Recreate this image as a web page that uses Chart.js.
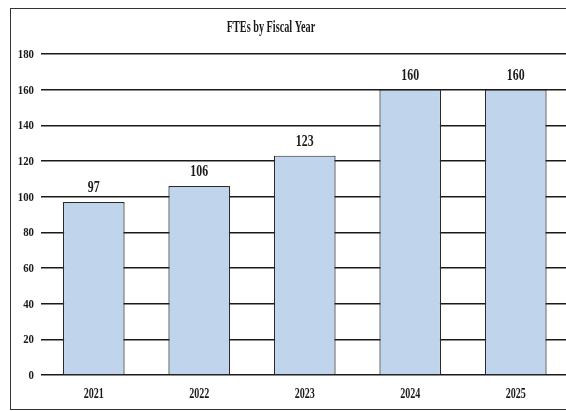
<!DOCTYPE html>
<html>
<head>
<meta charset="utf-8">
<script src="https://cdn.jsdelivr.net/npm/chart.js@4/dist/chart.umd.min.js"></script>
<style>
html, body { margin: 0; padding: 0; background: #fff; overflow: hidden; }
#wrap { position: absolute; left: 0; top: 0; width: 600px; height: 411px; }
</style>
</head>
<body>
<div id="wrap"><canvas id="fte" width="600" height="411"></canvas></div>
<script>
var chartTitle = "FTEs by Fiscal Year";
var years = ["2021", "2022", "2023", "2024", "2025"];
var ftes = [97, 106, 123, 160, 160];
var yMax = 180;
var yStep = 20;

var serif = '"Liberation Serif", "Times New Roman", serif';
var ink = '#1a1a1a';

// draw text squeezed sideways, the source uses a narrow bold serif
function squeeze(ctx, text, x, y, sx, align) {
	ctx.save();
	ctx.translate(x, y);
	ctx.scale(sx, 1);
	ctx.textAlign = align;
	ctx.textBaseline = 'alphabetic';
	ctx.fillText(text, 0, 0);
	ctx.restore();
}

var textPlugin = {
	id: 'textPlugin',
	afterDraw: function(chart) {
		var ctx = chart.ctx;
		var yScale = chart.scales.y;
		var xScale = chart.scales.x;
		ctx.save();
		ctx.fillStyle = ink;

		// frame
		ctx.strokeStyle = '#333';
		ctx.lineWidth = 1;
		ctx.strokeRect(10.5, 8.5, 700, 401);

		// title
		ctx.font = 'bold 16px ' + serif;
		squeeze(ctx, chartTitle, 271, 32, 0.64, 'center');

		// y tick labels
		ctx.font = 'bold 12px ' + serif;
		yScale.ticks.forEach(function(t) {
			var py = yScale.getPixelForValue(t.value);
			squeeze(ctx, String(t.value), 34, py + 4, 0.9, 'right');
		});

		// x labels
		ctx.font = 'bold 14px ' + serif;
		years.forEach(function(y, i) {
			squeeze(ctx, y, xScale.getPixelForValue(i), 398, 0.72, 'center');
		});

		// value labels above bars
		ctx.font = 'bold 16px ' + serif;
		var meta = chart.getDatasetMeta(0);
		meta.data.forEach(function(bar, i) {
			squeeze(ctx, String(ftes[i]), bar.x, bar.y - 10, 0.74, 'center');
		});
		ctx.restore();
	}
};

var ctx = document.getElementById('fte');
var fteChart = new Chart(ctx, {
	type: 'bar',
	data: {
		labels: years,
		datasets: [{
			label: 'FTEs',
			data: ftes,
			backgroundColor: '#C0D5EC',
			borderColor: '#2a2a2a',
			borderWidth: 1.2,
			borderSkipped: 'bottom',
			barPercentage: 0.585,
			categoryPercentage: 1.0
		}]
	},
	options: {
		responsive: false,
		animation: false,
		devicePixelRatio: 1,
		layout: { padding: { left: 41, top: 54, right: 31.5, bottom: 36 } },
		plugins: {
			legend: { display: false },
			title: { display: false },
			tooltip: { enabled: false }
		},
		scales: {
			x: { display: false },
			y: {
				min: 0,
				max: yMax,
				ticks: { display: false, stepSize: yStep },
				grid: { drawTicks: false, color: '#1a1a1a', lineWidth: 1.5 },
				border: { display: false }
			}
		}
	},
	plugins: [textPlugin]
});
</script>
</body>
</html>
